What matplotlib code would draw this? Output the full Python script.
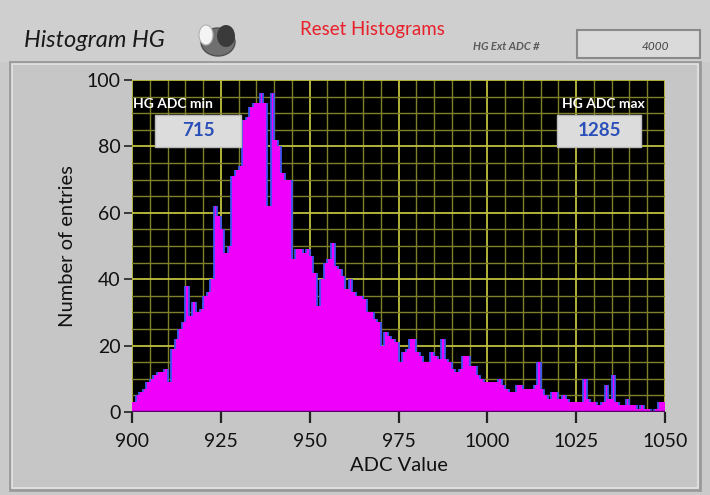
import numpy as np
import matplotlib
matplotlib.use("Agg")
import matplotlib.pyplot as plt
from matplotlib.patches import Rectangle, Ellipse
from matplotlib.ticker import MultipleLocator

# ---- data ----
bin_start = 900
counts = [3, 5, 6, 7, 9, 10, 11, 12, 12, 13,
          9, 19, 22, 25, 27, 38, 29, 33, 30, 31,
          35, 36, 40, 62, 59, 55, 48, 50, 71, 73,
          74, 88, 89, 92, 93, 93, 96, 93, 62, 96,
          82, 80, 72, 70, 70, 46, 49, 49, 48, 49,
          47, 42, 32, 40, 45, 46, 51, 44, 43, 41,
          37, 40, 36, 35, 35, 34, 30, 30, 28, 27,
          20, 24, 23, 22, 21, 15, 18, 19, 22, 22,
          18, 17, 15, 15, 18, 17, 16, 22, 16, 15,
          13, 12, 13, 17, 17, 14, 14, 11, 10, 9,
          9, 9, 9, 10, 8, 7, 6, 6, 8, 8,
          7, 7, 7, 8, 15, 7, 5, 4, 6, 6,
          4, 5, 4, 3, 3, 3, 3, 10, 4, 3,
          3, 2, 3, 8, 4, 11, 3, 2, 2, 4,
          2, 2, 1, 2, 1, 1, 0, 1, 3, 3]
x_ticks = [900, 925, 950, 975, 1000, 1025, 1050]
y_ticks = [0, 20, 40, 60, 80, 100]
title = "Histogram HG"
reset_label = "Reset Histograms"
ext_label = "HG Ext ADC #"
ext_value = "4000"
min_label, min_value = "HG ADC min", "715"
max_label, max_value = "HG ADC max", "1285"

W, H = 710, 495
fig = plt.figure(figsize=(W / 100, H / 100), dpi=100)
fig.patch.set_facecolor("#cacaca")
FONT = ["Lato", "DejaVu Sans"]

def fx(px):
    return px / W

def fy(py):
    return 1 - py / H

# top strip
fig.add_artist(Rectangle((0, fy(62)), 1, fy(0) - fy(62), transform=fig.transFigure,
                         facecolor="#cfcfcf", edgecolor="none", zorder=0))
# panel frame
fig.add_artist(Rectangle((fx(10), fy(490)), fx(690), fy(62) - fy(490), transform=fig.transFigure,
                         facecolor="#c6c6c6", edgecolor="#9a9a9a", lw=2, zorder=0))
fig.add_artist(Rectangle((fx(12), fy(488)), fx(686), fy(64) - fy(488), transform=fig.transFigure,
                         facecolor="none", edgecolor="#e4e4e4", lw=1.2, zorder=0))

# header texts
fig.text(fx(24), fy(47), title, fontsize=17, style="italic", color="#1a1a1a",
         family=FONT, va="baseline", ha="left")
fig.text(fx(300), fy(35), reset_label, fontsize=13.5, color="#e8202a",
         family=FONT, va="baseline", ha="left")
fig.text(fx(473), fy(50), ext_label, fontsize=8, style="italic", weight="bold",
         color="#5a5a5a", family=FONT, va="baseline", ha="left")
fig.add_artist(Rectangle((fx(577), fy(58)), fx(123), fy(30) - fy(58), transform=fig.transFigure,
                         facecolor="#dadada", edgecolor="#8a8a8a", lw=1.5, zorder=1))
fig.text(fx(655), fy(50), ext_value, fontsize=8.5, style="italic", color="#444444",
         family=FONT, va="baseline", ha="center")

# toggle switch
fig.add_artist(Ellipse((fx(218), fy(42)), fx(34), fy(28) - fy(56), transform=fig.transFigure,
                       facecolor="#707070", edgecolor="#505050", lw=1, zorder=2))
fig.add_artist(Ellipse((fx(226), fy(36)), fx(18), fy(24) - fy(46), transform=fig.transFigure,
                       facecolor="#3a3a3a", edgecolor="none", zorder=3))
fig.add_artist(Ellipse((fx(206), fy(35)), fx(14), fy(25) - fy(45), transform=fig.transFigure,
                       facecolor="#f4f4f4", edgecolor="#b0b0b0", lw=0.8, zorder=3))

# axes
left, right, top, bottom = 132, 665, 80, 412
ax = fig.add_axes([fx(left), fy(bottom), fx(right - left), fy(top) - fy(bottom)])
ax.set_facecolor("black")

vals = np.array(counts, dtype=float)
edges = bin_start + np.arange(len(vals) + 1)

ax.set_xlim(x_ticks[0], x_ticks[-1])
ax.set_ylim(y_ticks[0], y_ticks[-1])
ax.xaxis.set_minor_locator(MultipleLocator(5))
ax.yaxis.set_minor_locator(MultipleLocator(5))
ax.set_xticks(x_ticks)
ax.set_yticks(y_ticks)
ax.grid(which="major", color="#c0c040", lw=1.3, zorder=0)
ax.grid(which="minor", color="#80802c", lw=1.0, zorder=0)
ax.set_axisbelow(True)

ax.stairs(vals, edges, fill=True, color="#ee00fa", zorder=2)
ax.vlines(edges[1:-1], np.minimum(vals[:-1], vals[1:]), np.maximum(vals[:-1], vals[1:]),
          color="#3c56f0", lw=1.3, zorder=3)
ax.axhline(0, color="#5a006a", lw=2.5, zorder=4)

for s in ax.spines.values():
    s.set_visible(False)

ax.tick_params(axis="x", which="major", direction="out", length=8, width=1.6,
               color="#222222", pad=7, labelsize=14, labelcolor="#111111")
ax.tick_params(axis="y", which="major", direction="out", length=6, width=1.2,
               color="#222222", pad=2, labelsize=14, labelcolor="#111111")
ax.tick_params(which="minor", length=0)
for lab in ax.get_xticklabels() + ax.get_yticklabels():
    lab.set_family(FONT)

ax.set_xlabel("ADC Value", fontsize=14.5, family=FONT, color="#111111", labelpad=5)
ax.set_ylabel("Number of entries", fontsize=14.5, family=FONT, color="#111111", labelpad=8)

# min/max indicators
fig.text(fx(173), fy(104), min_label, fontsize=10, weight="bold", color="white",
         family=FONT, ha="center", va="center", zorder=10)
fig.add_artist(Rectangle((fx(155), fy(147)), fx(86), fy(115) - fy(147), transform=fig.transFigure,
                         facecolor="#dcdcdc", edgecolor="#bbbbbb", lw=1, zorder=9))
fig.text(fx(198), fy(131), min_value, fontsize=13.5, weight="bold", color="#2a4fb8",
         family=FONT, ha="center", va="center", zorder=10)
fig.text(fx(603), fy(104), max_label, fontsize=10, weight="bold", color="white",
         family=FONT, ha="center", va="center", zorder=10)
fig.add_artist(Rectangle((fx(557), fy(147)), fx(84), fy(115) - fy(147), transform=fig.transFigure,
                         facecolor="#dcdcdc", edgecolor="#bbbbbb", lw=1, zorder=9))
fig.text(fx(599), fy(131), max_value, fontsize=13.5, weight="bold", color="#2a4fb8",
         family=FONT, ha="center", va="center", zorder=10)

fig.savefig("out.png", dpi=100, facecolor=fig.get_facecolor())
